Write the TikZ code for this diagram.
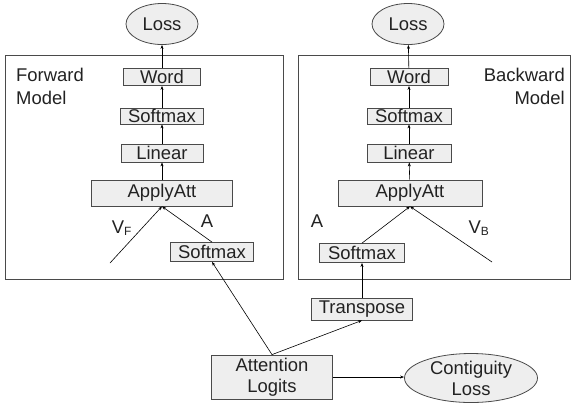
\documentclass[tikz,border=0pt]{standalone}
\usepackage{fontspec}
\setmainfont{Liberation Sans}
\usetikzlibrary{shapes.geometric,arrows.meta}
\definecolor{boxfill}{HTML}{EEEEEE}
\definecolor{edge}{HTML}{4A4A4A}
\definecolor{txt}{HTML}{222222}
\newcommand{\subsz}{\fontsize{12}{14}\selectfont}
\begin{document}
\begin{tikzpicture}[x=1bp,y=-1bp,
  blk/.style={draw=edge,fill=boxfill,line width=0.8bp,inner sep=0pt,text=txt,font=\fontsize{18.5}{21}\selectfont},
  oval/.style={draw=edge,fill=boxfill,ellipse,line width=0.8bp,inner sep=0pt,text=txt,font=\fontsize{18.5}{21}\selectfont,align=center},
  frame/.style={draw=edge,line width=0.8bp},
  lbl/.style={text=txt,font=\fontsize{18.5}{23}\selectfont,inner sep=0pt},
  conn/.style={draw=black,line width=0.6bp,-{Stealth[length=4bp,width=3bp]}},
  plain/.style={draw=black,line width=0.6bp}]
\useasboundingbox (0,0) rectangle (571,405);
% frames
\draw[frame] (5,55) rectangle (283,279);
\draw[frame] (298,55) rectangle (570,279);
% forward model
\node[oval,minimum width=72bp,minimum height=41bp] (lossF) at (162,24) {Loss};
\node[blk,minimum width=77bp,minimum height=17bp] (wordF) at (162,77) {Word};
\node[blk,minimum width=83bp,minimum height=16bp] (smF) at (162,116) {Softmax};
\node[blk,minimum width=82bp,minimum height=18bp] (linF) at (162,153) {Linear};
\node[blk,minimum width=141bp,minimum height=26bp] (attF) at (162,193) {ApplyAtt};
\node[blk,minimum width=83bp,minimum height=19bp] (sm2F) at (212,252) {Softmax};
\node[lbl,anchor=north west,align=left] (fwd) at (16,68) {Forward\\Model};
\coordinate (vF) at (110,263);
\node[lbl] (vFl) at (122,228) {V\textsubscript{\subsz F}};
\node[lbl] (aF) at (207,221) {A};
% backward model
\node[oval,minimum width=72bp,minimum height=41bp] (lossB) at (408,24) {Loss};
\node[blk,minimum width=78bp,minimum height=17bp] (wordB) at (409,77) {Word};
\node[blk,minimum width=84bp,minimum height=16bp] (smB) at (409,116) {Softmax};
\node[blk,minimum width=84bp,minimum height=18bp] (linB) at (409,153) {Linear};
\node[blk,minimum width=144bp,minimum height=26bp] (attB) at (410,193) {ApplyAtt};
\node[blk,minimum width=85bp,minimum height=19bp] (sm2B) at (362,253) {Softmax};
\node[lbl,anchor=north east,align=right] (bwd) at (565,68) {Backward\\Model};
\coordinate (vB) at (492,262);
\node[lbl] (aB) at (317,221) {A};
\node[lbl] (vBl) at (479,228) {V\textsubscript{\subsz B}};
% bottom
\node[blk,minimum width=101bp,minimum height=22bp] (tr) at (362,309) {Transpose};
\node[blk,minimum width=121bp,minimum height=44bp,align=center] (att) at (272,377) {Attention\\Logits};
\node[oval,minimum width=133bp,minimum height=49bp] (cont) at (471,378) {Contiguity\\Loss};
% connectors forward
\draw[conn] (wordF) -- (lossF);
\draw[conn] (smF) -- (wordF);
\draw[conn] (linF) -- (smF);
\draw[conn] (attF) -- (linF);
\draw[conn] (vF) -- (attF.south);
\draw[conn] (sm2F.north) -- (attF.south);
% connectors backward
\draw[conn] (wordB) -- (lossB);
\draw[conn] (smB) -- (wordB);
\draw[conn] (linB) -- (smB);
\draw[conn] (attB) -- (linB);
\draw[conn] (vB) -- (attB.south);
\draw[conn] (sm2B.north) -- (attB.south);
% bottom connectors
\draw[conn] (att.north) -- (sm2F.south);
\draw[conn] (att.north) -- (tr.south);
\draw[conn] (tr.north) -- (sm2B.south);
\draw[conn] (att.east) -- (att.east -| cont.west);
\end{tikzpicture}
\end{document}
